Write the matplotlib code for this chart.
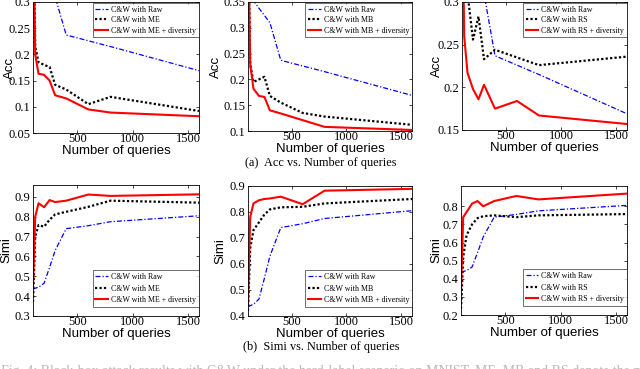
import numpy as np
import matplotlib.pyplot as plt

# number of queries
queries = [100, 120, 150, 200, 250, 300, 400, 600, 800, 1600]

# Acc (top row)
acc_raw = [0.5, 0.4, 0.353, 0.338, 0.324, 0.31, 0.237, 0.226, 0.215, 0.169]
acc_me = [0.5, 0.215, 0.185, 0.18, 0.176, 0.142, 0.133, 0.105, 0.119, 0.092]
acc_me_div = [0.5, 0.2, 0.163, 0.161, 0.15, 0.122, 0.116, 0.095, 0.089, 0.082]
acc_mb = [0.5, 0.23, 0.195, 0.2, 0.205, 0.168, 0.155, 0.135, 0.128, 0.112]
acc_mb_div = [0.5, 0.23, 0.182, 0.168, 0.166, 0.14, 0.134, 0.121, 0.108, 0.102]
acc_rs = [0.5, 0.4, 0.31, 0.256, 0.283, 0.233, 0.244, 0.235, 0.226, 0.236]
acc_rs_div = [0.45, 0.26, 0.217, 0.198, 0.186, 0.203, 0.175, 0.184, 0.167, 0.157]

# Simi (bottom row)
simi_raw = [0.435, 0.44, 0.445, 0.465, 0.545, 0.63, 0.74, 0.755, 0.775, 0.805]
simi_me = [0.37, 0.7, 0.758, 0.75, 0.785, 0.812, 0.825, 0.85, 0.881, 0.871]
simi_me_div = [0.45, 0.8, 0.868, 0.848, 0.884, 0.874, 0.881, 0.912, 0.905, 0.913]
simi_mb = [0.42, 0.66, 0.73, 0.76, 0.79, 0.81, 0.818, 0.82, 0.833, 0.85]
simi_mb_div = [0.445, 0.78, 0.833, 0.845, 0.85, 0.852, 0.859, 0.83, 0.882, 0.889]
simi_rs = [0.235, 0.52, 0.64, 0.7, 0.735, 0.745, 0.75, 0.74, 0.75, 0.757]
simi_rs_div = [0.34, 0.74, 0.768, 0.815, 0.829, 0.8, 0.829, 0.857, 0.838, 0.87]

methods = ["ME", "MB", "RS"]
acc_lines = [(acc_me, acc_me_div), (acc_mb, acc_mb_div), (acc_rs, acc_rs_div)]
simi_lines = [(simi_me, simi_me_div), (simi_mb, simi_mb_div), (simi_rs, simi_rs_div)]

acc_ylim = [(0.05, 0.3), (0.1, 0.35), (0.15, 0.3)]
acc_ticks = [[0.05, 0.1, 0.15, 0.2, 0.25, 0.3],
             [0.1, 0.15, 0.2, 0.25, 0.3, 0.35],
             [0.15, 0.2, 0.25, 0.3]]
simi_ylim = [(0.3, 0.96), (0.4, 0.9), (0.2, 0.912)]
simi_ticks = [[0.3, 0.4, 0.5, 0.6, 0.7, 0.8, 0.9],
              [0.4, 0.5, 0.6, 0.7, 0.8, 0.9],
              [0.2, 0.3, 0.4, 0.5, 0.6, 0.7, 0.8]]

W, H = 640, 369
top_boxes = [(33, 199, 2, 133), (248, 412, 2, 131), (462, 627, 2, 130)]
bot_boxes = [(33, 199, 185, 316), (248, 412, 186, 316), (461, 627, 186, 315)]
top_ylabel_x = [16, 222, 443]
bot_ylabel_x = [12, 226, 442]

serif = "Liberation Serif"
sans = "Liberation Sans"


def make_axes(fig, box):
    l, r, t, b = box
    return fig.add_axes([l / W, 1 - b / H, (r - l) / W, (b - t) / H])


def draw_panel(ax, box, lab_x, raw, base, div, name, ylim, ticks, ylabel, top):
    l, r, t, b = box
    ax.plot(queries, raw, color="blue", linestyle=(0, (4, 1.6, 1, 1.6)),
            linewidth=0.9, label="C&W with Raw")
    ax.plot(queries, base, color="black", linestyle=(0, (1, 1)), linewidth=1.6,
            label="C&W with " + name)
    ax.plot(queries, div, color="red", linestyle="-", linewidth=1.5,
            label="C&W with " + name + " + diversity")
    ax.set_xlim(100, 1600)
    ax.set_ylim(*ylim)
    ax.set_xticks([500, 1000, 1500])
    ax.set_yticks(ticks)
    ax.set_yticklabels([f"{v:g}" for v in ticks])
    ax.tick_params(direction="in", length=2.5, width=0.5, labelsize=9,
                   top=True, right=True)
    ax.tick_params(axis="x", pad=0.3)
    ax.tick_params(axis="y", pad=2)
    for lab in ax.get_xticklabels() + ax.get_yticklabels():
        lab.set_fontfamily(serif)
    for s in ax.spines.values():
        s.set_linewidth(0.6)
    ax.set_xlabel("Number of queries", fontfamily=sans, fontsize=9.5)
    ax.xaxis.set_label_coords(0.5, -12.0 / (b - t))
    ax.set_ylabel(ylabel, fontfamily=sans, fontsize=9.5)
    ax.yaxis.set_label_coords((lab_x - l) / (r - l), 0.5)
    if top:
        loc, anchor, spacing = "upper right", (1, 1 - 1.0 / (b - t)), 0.3
    else:
        loc, anchor, spacing = "lower right", (1, 9.0 / (b - t)), 0.45
    leg = ax.legend(loc=loc, bbox_to_anchor=anchor,
                    prop={"family": serif, "size": 5.7}, frameon=True,
                    fancybox=False, edgecolor="black", borderpad=0.35,
                    labelspacing=spacing, handlelength=1.6, handletextpad=0.4,
                    borderaxespad=0.0)
    leg.get_frame().set_linewidth(0.5)


fig = plt.figure(figsize=(W / 100, H / 100), dpi=100)

for i in range(3):
    ax = make_axes(fig, top_boxes[i])
    draw_panel(ax, top_boxes[i], top_ylabel_x[i], acc_raw, acc_lines[i][0],
               acc_lines[i][1], methods[i], acc_ylim[i], acc_ticks[i], "Acc", True)
    ax = make_axes(fig, bot_boxes[i])
    draw_panel(ax, bot_boxes[i], bot_ylabel_x[i], simi_raw, simi_lines[i][0],
               simi_lines[i][1], methods[i], simi_ylim[i], simi_ticks[i], "Simi", False)

fig.text(321 / W, 1 - 163 / H, "(a)  Acc vs. Number of queries", ha="center",
         va="center", fontfamily=serif, fontsize=8.8)
fig.text(321 / W, 1 - 347 / H, "(b)  Simi vs. Number of queries", ha="center",
         va="center", fontfamily=serif, fontsize=8.8)
fig.text(1 / W, 1 - 364.5 / H,
         "Fig. 4: Black-box attack results with C&W under the hard-label scenario on MNIST. "
         "ME, MB and RS denote the model extraction",
         ha="left", va="top", fontfamily=serif, fontsize=10, color="#b8b8b8")

fig.savefig("out.png", dpi=100)
